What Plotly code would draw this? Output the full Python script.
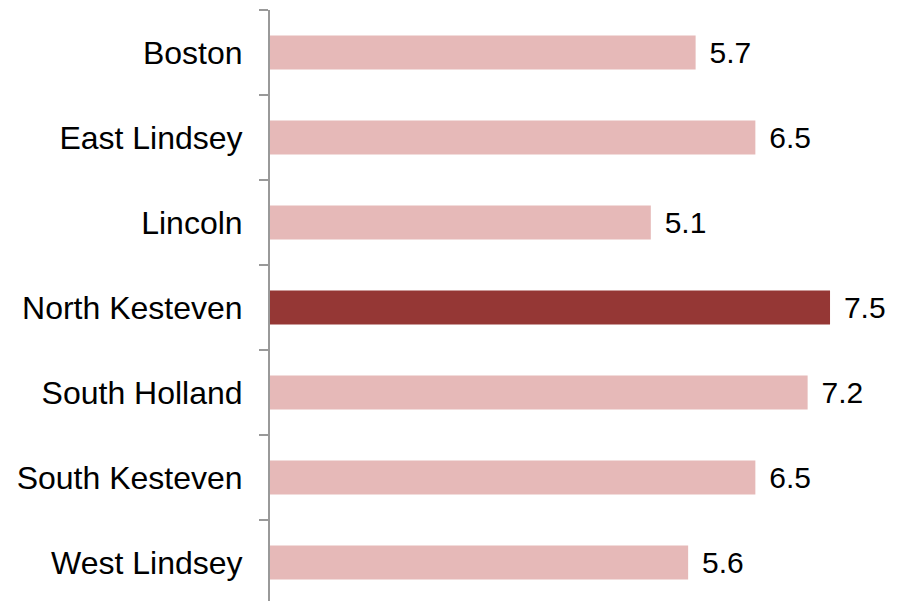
import plotly.graph_objects as go

categories = ["Boston", "East Lindsey", "Lincoln", "North Kesteven", "South Holland", "South Kesteven", "West Lindsey"]
values = [5.7, 6.5, 5.1, 7.5, 7.2, 6.5, 5.6]
highlight = "North Kesteven"

colors = ["#953735" if c == highlight else "#E6B9B8" for c in categories]

fig = go.Figure(go.Bar(
    y=categories, x=values, orientation="h",
    marker=dict(color=colors, line=dict(width=0)),
    width=0.4,
    text=[f"{v:.1f}" for v in values],
    texttemplate=" \u200a%{text}",
    textposition="outside",
    textfont=dict(family="Liberation Sans, Arial, sans-serif", size=30, color="#000"),
    cliponaxis=False,
))

# page body has an 8px default margin, so the figure margins compensate for it
fig.update_layout(
    width=902, height=601,
    margin=dict(l=262, r=0, t=2, b=0, autoexpand=False),
    plot_bgcolor="white", paper_bgcolor="white",
    showlegend=False,
    xaxis=dict(range=[0, 8.571], showgrid=False, zeroline=False, showticklabels=False,
               showline=False, automargin=False),
    yaxis=dict(
        type="category", range=[6.547, -0.5], automargin=False,
        showline=True, linecolor="#999999", linewidth=2,
        ticks="outside", tickson="boundaries", ticklen=9, tickwidth=2, tickcolor="#999999",
        tickfont=dict(family="Liberation Sans, Arial, sans-serif", size=32, color="#000"),
        ticklabelstandoff=19,
        showgrid=False, zeroline=False,
    ),
)

fig.write_html("out.html")
